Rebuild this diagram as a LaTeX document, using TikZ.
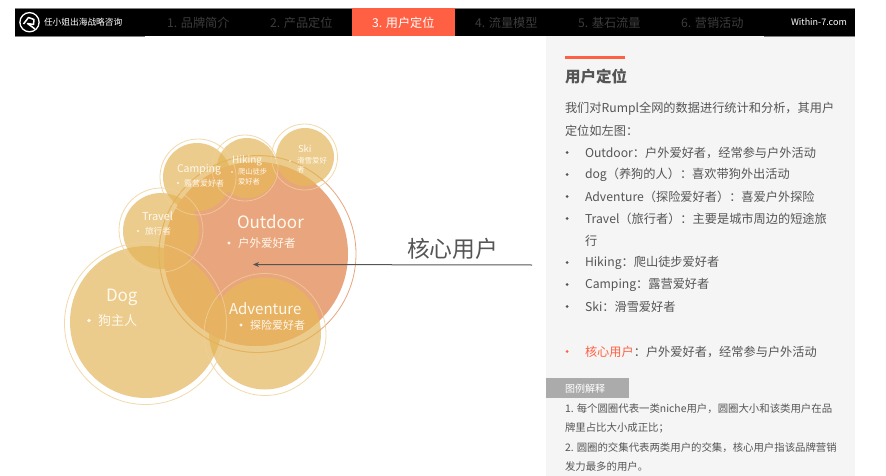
\documentclass[tikz,border=0pt]{standalone}
\usepackage{fontspec}
\usetikzlibrary{arrows.meta}
\setmainfont{Noto Sans CJK SC}
\definecolor{navblack}{HTML}{000000}
\definecolor{accent}{HTML}{FF6043}
\definecolor{navgrey}{HTML}{3C3C3C}
\definecolor{panel}{HTML}{F5F5F5}
\definecolor{bodytext}{HTML}{555555}
\definecolor{tagbg}{HTML}{ABABAB}
\definecolor{yel}{RGB}{228,180,87}
\definecolor{yelin}{HTML}{E8B263}
\definecolor{yelring}{HTML}{EFD096}
\definecolor{org}{HTML}{E9A57D}
\definecolor{softwhite}{HTML}{FFF8EC}
\tikzset{
  lbl/.style={anchor=west,inner sep=0pt,outer sep=0pt},
  bubble/.style={fill=yel,fill opacity=.68},
  ring/.style={draw=yelring,line width=.8pt,fill=none,draw opacity=.8},
  dotmark/.style={fill=softwhite},
}
\newcommand{\lab}[6]{\node[lbl,text=#5,font=\fontsize{#4}{#4}\selectfont] (#1) at (#2,#3) {\vphantom{用}#6};}
\begin{document}
\begin{tikzpicture}[x=1pt,y=-1pt]
\useasboundingbox (0,0) rectangle (886,476);
\fill[white] (0,0) rectangle (886,476);
% panel
\fill[panel] (546,36) rectangle (855,476);
% header
\fill[navblack] (15,8) rectangle (855,36);
\draw[gray,line width=.5pt] (15,8) -- (855,8);
\draw[gray,line width=.5pt] (15,36) -- (145,36);
\draw[gray,line width=.5pt] (764,36) -- (855,36);
\fill[accent] (352,8) rectangle (455,36);
% logo
\draw[white,line width=1.3pt] (29.5,22.2) circle (9.6);
\draw[white,line width=1.5pt,line join=round] (23.5,24) -- (28.5,17.5) -- (34,19.5) -- (33.5,24.5) -- (27.5,23.5) -- (35,29);
\lab{brand}{44}{22}{8.7}{white}{任小姐出海战略咨询}
\lab{nava}{167}{22.5}{12.2}{navgrey}{1. 品牌简介}
\lab{navb}{270}{22.5}{12.2}{navgrey}{2. 产品定位}
\lab{navc}{372}{22.5}{12.2}{white}{3. 用户定位}
\lab{navd}{475}{22.5}{12.2}{navgrey}{4. 流量模型}
\lab{nave}{578}{22.5}{12.2}{navgrey}{5. 基石流量}
\lab{navf}{681}{22.5}{12.2}{navgrey}{6. 营销活动}
\lab{site}{791}{22.5}{9}{white}{Within-7.com}
% circles
\draw[org,line width=.8pt] (257.5,254) circle (98.5);
\fill[org] (256,254) circle (92);
\fill[bubble] (146,322) circle (76);
\fill[bubble] (265,333.5) circle (56);
\fill[bubble] (161,231) circle (38);
\fill[bubble] (197,177) circle (34);
\fill[bubble] (247,168) circle (30);
\fill[bubble] (305,157) circle (29);
\begin{scope}
\clip (256,254) circle (92);
\fill[yelin] (146,322) circle (76);
\fill[yelin] (265,333.5) circle (56);
\fill[yelin] (161,231) circle (38);
\fill[yelin] (197,177) circle (34);
\fill[yelin] (247,168) circle (30);
\fill[yelin] (305,157) circle (29);
\end{scope}
\draw[ring] (145.5,323.5) circle (81);
\draw[ring] (265,334.5) circle (61);
\draw[ring] (161,230) circle (42);
\draw[ring] (198,177) circle (38);
\draw[ring] (245,168) circle (33);
\draw[ring] (304.5,157) circle (33);
\begin{scope}
\clip (146,322) circle (76) (265,333.5) circle (56) (161,231) circle (38);
\draw[yel,opacity=.5,line width=.8pt] (257.5,254) circle (98.5);
\end{scope}
\begin{scope}
\clip (197,177) circle (34);
\draw[yel,opacity=.5,line width=.8pt] (257.5,254) circle (98.5);
\end{scope}
\begin{scope}
\clip (247,168) circle (30);
\draw[yel,opacity=.5,line width=.8pt] (257.5,254) circle (98.5);
\end{scope}
\begin{scope}
\clip (305,157) circle (29);
\draw[yel,opacity=.5,line width=.8pt] (257.5,254) circle (98.5);
\end{scope}
% circle labels
\lab{outdoor}{237}{222}{17}{softwhite}{Outdoor}
\fill[dotmark] (229,243) circle (1.6);
\lab{outdoorz}{238}{243}{11.5}{softwhite}{户外爱好者}
\lab{dog}{106}{297.5}{17}{softwhite}{Dog}
\fill[dotmark] (89,320.5) circle (1.8);
\lab{dogz}{98}{320.5}{13}{softwhite}{狗主人}
\lab{adv}{229}{309}{15}{softwhite}{Adventure}
\fill[dotmark] (241,325) circle (1.6);
\lab{advz}{250}{325}{11}{softwhite}{探险爱好者}
\lab{travel}{142}{216.5}{11}{softwhite}{Travel}
\fill[dotmark] (138,231) circle (1.2);
\lab{travelz}{145}{231}{8.7}{softwhite}{旅行者}
\lab{camp}{177}{169.5}{10.5}{softwhite}{Camping}
\fill[dotmark] (178,183) circle (1.2);
\lab{campz}{184}{183}{8}{softwhite}{露营爱好者}
\lab{hike}{232}{160.5}{10}{softwhite}{Hiking}
\fill[dotmark] (232,172) circle (.9);
\lab{hikez}{238}{172}{7.3}{softwhite}{爬山徒步}
\lab{hikey}{238}{182}{7.3}{softwhite}{爱好者}
\lab{ski}{298}{149.5}{9.5}{softwhite}{Ski}
\fill[dotmark] (290,161) circle (.9);
\lab{skiz}{297}{161}{7.5}{softwhite}{滑雪爱好}
\lab{skiy}{297}{170}{7.5}{softwhite}{者}
% core user pointer
\lab{core}{407}{249}{22.8}{bodytext}{核心用户}
\coordinate (arrowfrom) at (532,265);
\coordinate (arrowto) at (253,264.5);
\draw[bodytext,line width=1pt,-{Stealth[length=6pt,width=5pt]}] (arrowfrom) -- (arrowto);
% panel text
\fill[accent] (565,56) rectangle (625,59);
\node[lbl,text=bodytext,font=\fontsize{15.5}{15.5}\selectfont\bfseries] (title) at (565,76.5) {用户定位};
\lab{intro}{565}{108.5}{12.2}{bodytext}{我们对Rumpl全网的数据进行统计和分析，其用户}
\lab{introb}{565}{130.5}{12.2}{bodytext}{定位如左图：}
\foreach \yy in {152.5,174.5,196.5,218.5,262.5,284.5,306.5} \fill[bodytext] (567,\yy) circle (1.5);
\lab{la}{585}{152.5}{12.2}{bodytext}{Outdoor：户外爱好者，经常参与户外活动}
\lab{lb}{585}{174.5}{12.2}{bodytext}{dog（养狗的人）：喜欢带狗外出活动}
\lab{lc}{585}{196.5}{12.2}{bodytext}{Adventure（探险爱好者）：喜爱户外探险}
\lab{ld}{585}{218.5}{12.2}{bodytext}{Travel（旅行者）：主要是城市周边的短途旅}
\lab{le}{585}{240.5}{12.2}{bodytext}{行}
\lab{lf}{585}{262.5}{12.2}{bodytext}{Hiking：爬山徒步爱好者}
\lab{lg}{585}{284.5}{12.2}{bodytext}{Camping：露营爱好者}
\lab{lh}{585}{306.5}{12.2}{bodytext}{Ski：滑雪爱好者}
\fill[accent] (567,351.5) circle (1.5);
\lab{li}{585}{351.5}{12.2}{bodytext}{\textcolor{accent}{核心用户}：户外爱好者，经常参与户外活动}
% legend
\fill[tagbg] (546,378) rectangle (629,398);
\lab{tag}{565}{389}{10}{white}{图例解释}
\lab{ma}{565}{408.5}{10.4}{bodytext}{1. 每个圆圈代表一类niche用户，圆圈大小和该类用户在品}
\lab{mb}{565}{427.5}{10.4}{bodytext}{牌里占比大小成正比；}
\lab{mc}{565}{447.5}{10.4}{bodytext}{2. 圆圈的交集代表两类用户的交集，核心用户指该品牌营销}
\lab{md}{565}{466.5}{10.4}{bodytext}{发力最多的用户。}
\end{tikzpicture}
\end{document}
